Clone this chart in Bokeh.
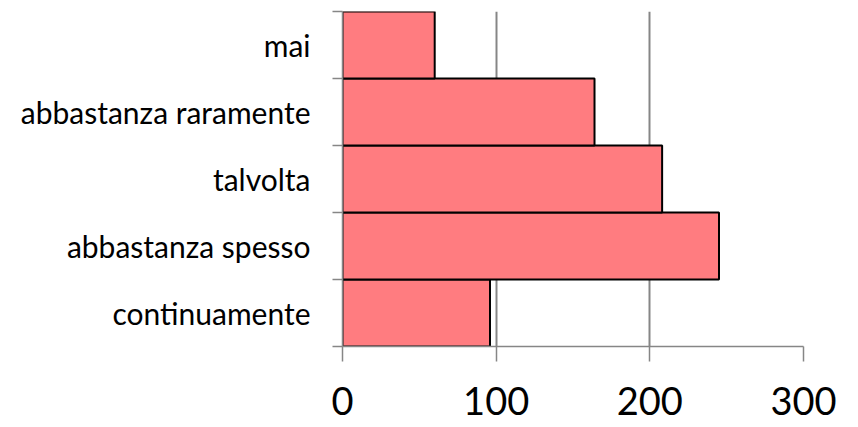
from bokeh.plotting import figure
from bokeh.models import Range1d, FixedTicker
from bokeh.embed import file_html
from bokeh.resources import INLINE

categories = ["continuamente", "abbastanza spesso", "talvolta", "abbastanza raramente", "mai"]
values = [96, 245, 208, 164, 60]
x_ticks = [0, 100, 200, 300]

positions = [i + 1 for i in range(len(categories))]
boundaries = [pos - 0.5 for pos in positions] + [positions[-1] + 0.5]

FONT = "Lato"
GRAY = "#868686"

p = figure(width=850, height=427, output_backend="svg", toolbar_location=None,
           x_range=Range1d(0, 300), y_range=Range1d(boundaries[0], boundaries[-1]),
           min_border_left=342, min_border_right=47, min_border_top=11, min_border_bottom=81)
p.outline_line_color = None
p.background_fill_color = "white"

p.hbar(y=positions, left=0, right=values, height=1.0,
       fill_color="#FF7C80", line_color="black", line_width=2)

p.ygrid.visible = False
p.xgrid.ticker = FixedTicker(ticks=x_ticks)
p.xgrid.grid_line_color = GRAY
p.xgrid.grid_line_width = 2

xa = p.xaxis[0]
xa.ticker = FixedTicker(ticks=x_ticks)
xa.axis_line_color = GRAY
xa.axis_line_width = 1.5
xa.major_tick_line_color = GRAY
xa.major_tick_line_width = 1.5
xa.major_tick_out = 15
xa.major_tick_in = 0
xa.minor_tick_out = 0
xa.minor_tick_in = 0
xa.major_label_text_font = FONT
xa.major_label_text_font_size = "38px"
xa.major_label_text_color = "black"
xa.major_label_standoff = 25

ya = p.yaxis[0]
ya.ticker = FixedTicker(ticks=positions, minor_ticks=boundaries)
ya.major_label_overrides = {pos: cat for pos, cat in zip(positions, categories)}
ya.axis_line_color = GRAY
ya.axis_line_width = 1.5
ya.major_tick_out = 0
ya.major_tick_in = 0
ya.minor_tick_out = 10
ya.minor_tick_in = 0
ya.minor_tick_line_color = GRAY
ya.minor_tick_line_width = 1.5
ya.major_label_text_font = FONT
ya.major_label_text_font_size = "30px"
ya.major_label_text_color = "black"
ya.major_label_standoff = 22

open("out.html", "w").write(file_html(p, INLINE))
